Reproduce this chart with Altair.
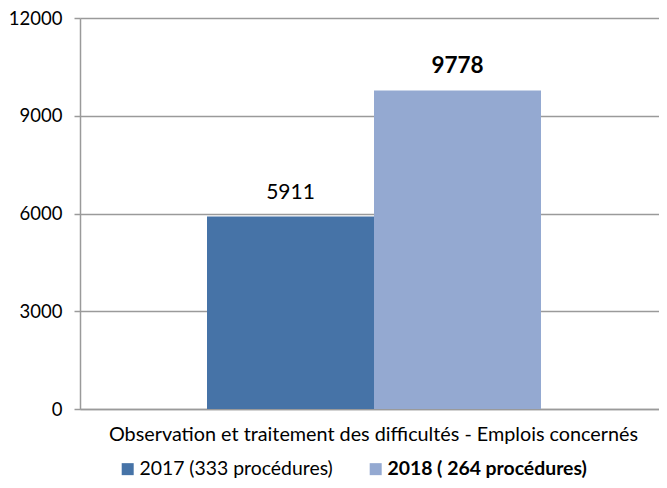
import altair as alt
import pandas as pd

category = "Observation et traitement des difficultés - Emplois concernés"
years = ["2017 (333 procédures)", "2018 ( 264 procédures)"]
values = [5911, 9778]
label_weights = ["normal", "bold"]
colors = ["#4673A7", "#94A9D1"]
y_ticks = [0, 3000, 6000, 9000, 12000]

df = pd.DataFrame({
    "cat": [category] * len(years),
    "year": years,
    "value": values,
    "weight": label_weights,
})

FONT = "Lato"
GRAY = "#9a9a9a"

base = alt.Chart(df).encode(
    x=alt.X("cat:N", title=None,
            scale=alt.Scale(paddingInner=0, paddingOuter=0),
            axis=alt.Axis(labelAngle=0, ticks=False, labelFontSize=19.8, labelFont=FONT,
                          labelColor="black", labelPadding=15, labelOffset=4,
                          domainColor=GRAY, domainWidth=1.5, labelLimit=1000)),
    xOffset=alt.XOffset("year:N", sort=years,
                        scale=alt.Scale(paddingInner=0, paddingOuter=0, range=[127, 461])),
    y=alt.Y("value:Q", title=None,
            scale=alt.Scale(domain=[0, 12000], nice=False),
            axis=alt.Axis(values=y_ticks, format="d", labelFontSize=18.5, labelFont=FONT,
                          labelColor="black", labelPadding=12, tickSize=6,
                          tickColor=GRAY, tickWidth=1.5, domainColor=GRAY,
                          domainWidth=1.5, gridColor=GRAY, gridWidth=1.5)),
)

bars = base.mark_bar().encode(
    color=alt.Color("year:N",
                    scale=alt.Scale(domain=years, range=colors),
                    legend=alt.Legend(title=None, orient="none", legendX=38, legendY=441,
                                      direction="horizontal", symbolType="square",
                                      symbolSize=144, symbolStrokeWidth=0,
                                      labelFontSize=19.4, labelFont=FONT, labelColor="black",
                                      columnPadding=33, labelOffset=2, labelLimit=0,
                                      labelFontWeight={"expr": "indexof(datum.label, '2018') >= 0 ? 'bold' : 'normal'"})),
)

txt_normal = base.mark_text(baseline="alphabetic", dy=-17, fontSize=21, font=FONT,
                            color="black").encode(text="value:Q").transform_filter(
    alt.datum.weight == "normal")
txt_bold = base.mark_text(baseline="alphabetic", dy=-17, fontSize=22.5, font=FONT,
                          color="black", fontWeight="bold").encode(text="value:Q").transform_filter(
    alt.datum.weight == "bold")

chart = alt.layer(bars, txt_normal, txt_bold).properties(
    width=579, height=391,
    autosize="none",
    padding={"left": 72, "top": 10, "right": 0, "bottom": 71},
).configure_view(strokeWidth=0)

chart.save("out.html", embed_options={"renderer": "svg", "actions": False})
